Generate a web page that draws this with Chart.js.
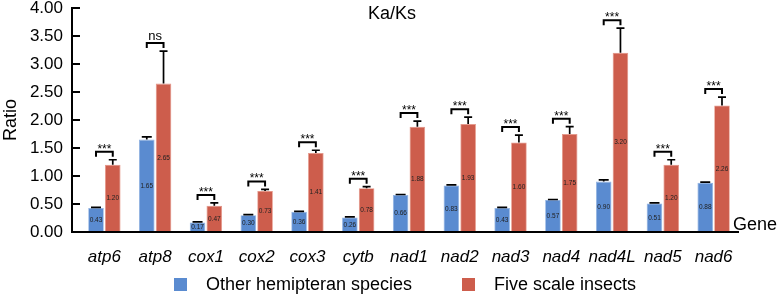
<!DOCTYPE html>
<html>
<head>
<meta charset="utf-8">
<script src="https://cdn.jsdelivr.net/npm/chart.js@4.4.1/dist/chart.umd.min.js"></script>
<style>
  html, body { margin: 0; padding: 0; background: #fff; }
  #wrap { width: 778px; height: 294px; }
</style>
</head>
<body>
<div id="wrap"><canvas id="myChart" width="778" height="294"></canvas></div>
<script>
const genes = ["atp6", "atp8", "cox1", "cox2", "cox3", "cytb", "nad1", "nad2", "nad3", "nad4", "nad4L", "nad5", "nad6"];
const otherVals = [0.43, 1.65, 0.17, 0.30, 0.36, 0.26, 0.66, 0.83, 0.43, 0.57, 0.90, 0.51, 0.88];
const otherErr = [0.01, 0.05, 0.01, 0.01, 0.01, 0.01, 0.01, 0.01, 0.01, 0.01, 0.03, 0.01, 0.01];
const scaleVals = [1.20, 2.65, 0.47, 0.73, 1.41, 0.78, 1.88, 1.93, 1.60, 1.75, 3.20, 1.20, 2.26];
const scaleErr = [0.09, 0.58, 0.05, 0.03, 0.05, 0.03, 0.10, 0.12, 0.13, 0.13, 0.44, 0.09, 0.15];
const signif = ["***", "ns", "***", "***", "***", "***", "***", "***", "***", "***", "***", "***", "***"];
const yTicks = [0, 0.5, 1, 1.5, 2, 2.5, 3, 3.5, 4];

const FONT = "'Liberation Sans', Arial, Helvetica, sans-serif";
const BLUE = "#5a8bd0";
const RED = "#cd5d4c";

const decor = {
  id: "decor",
  afterDatasetsDraw(chart) {
    const ctx = chart.ctx;
    const y = chart.scales.y;
    const area = chart.chartArea;
    const axisLeft = 72;
    ctx.save();

    // axes lines
    ctx.strokeStyle = "#000";
    ctx.lineWidth = 2;
    ctx.beginPath();
    ctx.moveTo(axisLeft, y.getPixelForValue(4) - 1);
    ctx.lineTo(axisLeft, area.bottom);
    ctx.lineTo(area.right, area.bottom);
    ctx.stroke();
    // inward ticks
    yTicks.forEach(v => {
      const py = y.getPixelForValue(v);
      ctx.beginPath();
      ctx.moveTo(axisLeft, py);
      ctx.lineTo(axisLeft + 8, py);
      ctx.stroke();
    });

    // error bars
    const errs = [otherErr, scaleErr];
    const vals = [otherVals, scaleVals];
    const capW = [10, 8];
    ctx.lineWidth = 1.7;
    [0, 1].forEach(d => {
      chart.getDatasetMeta(d).data.forEach((bar, i) => {
        const top = y.getPixelForValue(vals[d][i] + errs[d][i]);
        ctx.beginPath();
        ctx.moveTo(bar.x, bar.y);
        ctx.lineTo(bar.x, top);
        ctx.moveTo(bar.x - capW[d] / 2, top);
        ctx.lineTo(bar.x + capW[d] / 2, top);
        ctx.stroke();
      });
    });

    // value labels in bars
    ctx.fillStyle = "#222";
    ctx.font = "6.5px " + FONT;
    ctx.textAlign = "center";
    ctx.textBaseline = "middle";
    [0, 1].forEach(d => {
      chart.getDatasetMeta(d).data.forEach((bar, i) => {
        ctx.fillText(vals[d][i].toFixed(2), bar.x, (bar.y + bar.base) / 2);
      });
    });

    // significance brackets
    const m0 = chart.getDatasetMeta(0).data;
    const m1 = chart.getDatasetMeta(1).data;
    ctx.lineWidth = 2;
    ctx.fillStyle = "#000";
    genes.forEach((g, i) => {
      const cap = Math.min(
        y.getPixelForValue(otherVals[i] + otherErr[i]),
        y.getPixelForValue(scaleVals[i] + scaleErr[i])
      );
      const by = cap - 8;
      const x0 = m0[i].x, x1 = m1[i].x;
      ctx.beginPath();
      ctx.moveTo(x0, by + 5);
      ctx.lineTo(x0, by);
      ctx.lineTo(x1, by);
      ctx.lineTo(x1, by + 5);
      ctx.stroke();
      ctx.textBaseline = "alphabetic";
      if (signif[i] === "ns") {
        ctx.font = "13px " + FONT;
        ctx.fillText("ns", (x0 + x1) / 2, by - 3);
      } else {
        ctx.font = "12px " + FONT;
        ctx.fillText(signif[i], (x0 + x1) / 2, by + 1);
      }
    });

    // title and axis name
    ctx.font = "18px " + FONT;
    ctx.textBaseline = "middle";
    ctx.textAlign = "center";
    ctx.fillText("Ka/Ks", 392, 14);
    ctx.textAlign = "left";
    ctx.fillText("Gene", 733, 225);

    // legend
    const legend = [
      { text: "Other hemipteran species", color: BLUE, x: 174 },
      { text: "Five scale insects", color: RED, x: 462 }
    ];
    legend.forEach(it => {
      ctx.fillStyle = it.color;
      ctx.fillRect(it.x, 278, 13, 13);
      ctx.fillStyle = "#000";
      ctx.fillText(it.text, it.x + 32, 285);
    });
    ctx.restore();
  }
};

new Chart(document.getElementById("myChart").getContext("2d"), {
  type: "bar",
  data: {
    labels: genes,
    datasets: [
      {
        label: "Other hemipteran species",
        data: otherVals,
        backgroundColor: BLUE,
        borderColor: "#8fb1e2",
        borderWidth: 0.8,
        categoryPercentage: 0.66,
        barPercentage: 0.93
      },
      {
        label: "Five scale insects",
        data: scaleVals,
        backgroundColor: RED,
        borderColor: "#e59586",
        borderWidth: 0.8,
        categoryPercentage: 0.66,
        barPercentage: 0.93
      }
    ]
  },
  options: {
    responsive: false,
    animation: false,
    layout: { padding: { top: 8, right: 39, bottom: 26, left: 0 } },
    plugins: {
      legend: { display: false },
      tooltip: { enabled: false }
    },
    scales: {
      x: {
        grid: { display: false, drawTicks: false },
        border: { display: false },
        ticks: {
          color: "#000",
          padding: 15,
          maxRotation: 0,
          autoSkip: false,
          font: { family: FONT, size: 17, style: "italic" }
        },
        afterFit(scale) { scale.height = 36; scale.paddingLeft = 0; scale.paddingRight = 0; }
      },
      y: {
        min: 0,
        max: 4,
        grid: { display: false, drawTicks: false },
        border: { display: false },
        afterBuildTicks(scale) { scale.ticks = yTicks.map(v => ({ value: v })); },
        ticks: {
          color: "#000",
          padding: 16,
          font: { family: FONT, size: 17 },
          callback: v => Number(v).toFixed(2)
        },
        title: {
          display: true,
          text: "Ratio",
          color: "#000",
          padding: { top: 0, bottom: 0 },
          font: { family: FONT, size: 18 }
        },
        afterFit(scale) { scale.width = 79; scale.paddingTop = 0; scale.paddingBottom = 0; }
      }
    }
  },
  plugins: [decor]
});
</script>
</body>
</html>
